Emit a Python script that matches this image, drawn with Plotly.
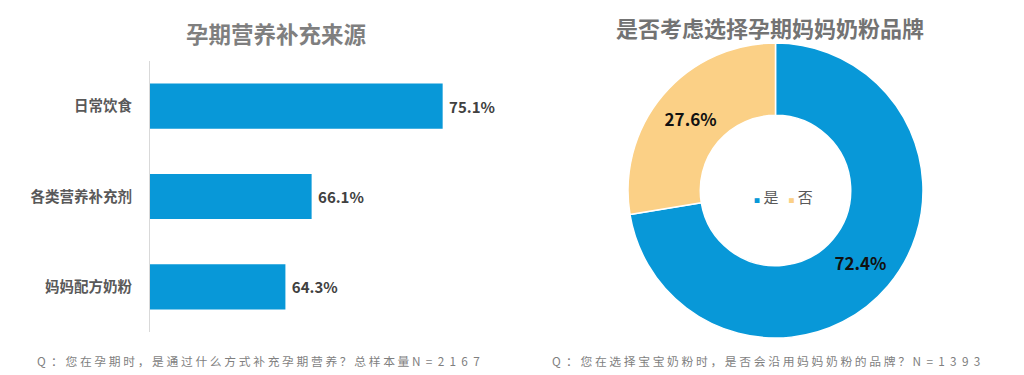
import plotly.graph_objects as go

# ---- data ----
bar_categories = ["日常饮食", "各类营养补充剂", "妈妈配方奶粉"]
bar_values = [75.1, 66.1, 64.3]
pie_labels = ["是", "否"]
pie_values = [72.4, 27.6]

left_title = "孕期营养补充来源"
right_title = "是否考虑选择孕期妈妈奶粉品牌"
left_note = "Q：您在孕期时，是通过什么方式补充孕期营养？总样本量N=2167"
right_note = "Q：您在选择宝宝奶粉时，是否会沿用妈妈奶粉的品牌？N=1393"

BLUE = "#0898D8"
PEACH = "#FBD086"
FONT = "Noto Sans CJK SC"

OFF = 8  # page body margin
W, H = 1024 - OFF, 375 - OFF


def px(x):
    return (x - OFF) / W


def py(y):
    return (H - (y - OFF)) / H


def spaced(s):
    out = []
    for ch in s:
        out.append(ch)
        out.append(" " if ord(ch) > 127 else "  ")
    return "".join(out).rstrip()


fig = go.Figure()

fig.add_trace(go.Bar(
    y=bar_categories, x=bar_values, orientation="h",
    marker=dict(color=BLUE, line=dict(width=0)),
    width=0.5,
    text=[f"\u00a0{v:.1f}%" for v in bar_values],
    textposition="outside",
    textfont=dict(family=FONT, size=15, color="#404040", weight="bold"),
    cliponaxis=False,
    xaxis="x", yaxis="y",
    showlegend=False,
    hoverinfo="skip",
))

pie_cx, pie_cy, pie_r = 775.5, 190.5, 147.5
fig.add_trace(go.Pie(
    labels=pie_labels, values=pie_values,
    hole=0.51, sort=False, direction="clockwise", rotation=0,
    marker=dict(colors=[BLUE, PEACH], line=dict(color="white", width=1.5)),
    texttemplate="%{value:.1f}%",
    textposition="inside",
    insidetextorientation="horizontal",
    textfont=dict(family=FONT, size=17, color="#111111", weight="bold"),
    domain=dict(x=[px(pie_cx - pie_r), px(pie_cx + pie_r)],
                y=[py(pie_cy + pie_r), py(pie_cy - pie_r)]),
    showlegend=False,
    hoverinfo="skip",
))

fig.update_layout(
    width=W, height=H,
    margin=dict(l=0, r=0, t=0, b=0),
    paper_bgcolor="white", plot_bgcolor="white",
    font=dict(family=FONT),
    xaxis=dict(domain=[px(150), px(514)], range=[55, 80],
               visible=False, fixedrange=True),
    yaxis=dict(domain=[py(332), py(61)],
               autorange="reversed",
               showline=True, linecolor="#D9D9D9", linewidth=1,
               showgrid=False, zeroline=False, ticks="",
               ticklabelstandoff=14,
               tickfont=dict(family=FONT, size=14.5, color="#595959", weight="bold")),
    bargap=0.5,
)

annotations = [
    dict(text=left_title, x=px(276), y=py(33), xref="paper", yref="paper",
         showarrow=False, xanchor="center", yanchor="middle",
         font=dict(family=FONT, size=22.5, color="#7F7F7F", weight="bold")),
    dict(text=right_title, x=px(770), y=py(27), xref="paper", yref="paper",
         showarrow=False, xanchor="center", yanchor="middle",
         font=dict(family=FONT, size=22, color="#737373", weight="bold")),
    dict(text=spaced(left_note), x=px(258.5), y=py(360), xref="paper", yref="paper",
         showarrow=False, xanchor="center", yanchor="middle",
         font=dict(family=FONT, size=11.8, color="#7F7F7F")),
    dict(text=spaced(right_note), x=px(766), y=py(360), xref="paper", yref="paper",
         showarrow=False, xanchor="center", yanchor="middle",
         font=dict(family=FONT, size=11.8, color="#7F7F7F")),
    dict(text=(f"<span style='color:{BLUE};font-size:6px'>■</span> {pie_labels[0]}"
               f"   <span style='color:{PEACH};font-size:6px'>■</span> {pie_labels[1]}"),
         x=px(783), y=py(197), xref="paper", yref="paper",
         showarrow=False, xanchor="center", yanchor="middle",
         font=dict(family=FONT, size=15, color="#595959")),
]
fig.update_layout(annotations=annotations)

fig.write_html("out.html")
